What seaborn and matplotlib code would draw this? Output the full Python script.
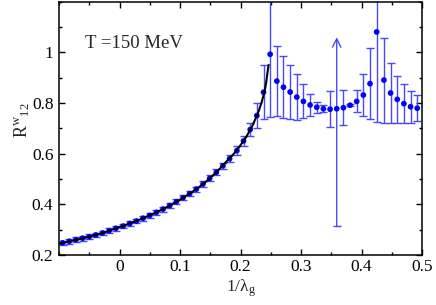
import numpy as np
import seaborn as sns
import matplotlib
matplotlib.use("Agg")
import matplotlib.pyplot as plt
from matplotlib.ticker import MultipleLocator, FuncFormatter

### Data ###

inv_lambda = [-0.094, -0.083, -0.072, -0.061, -0.050, -0.039, -0.028, -0.017, -0.006, 0.006,
              0.017, 0.028, 0.039, 0.050, 0.061, 0.072, 0.083, 0.094, 0.105, 0.116,
              0.127, 0.138, 0.149, 0.160, 0.171, 0.182, 0.194, 0.205, 0.216, 0.227,
              0.238, 0.249, 0.260, 0.271, 0.282, 0.293, 0.304, 0.315, 0.326, 0.337,
              0.348, 0.359, 0.370, 0.381, 0.392, 0.403, 0.414, 0.425, 0.437, 0.448,
              0.459, 0.470, 0.481, 0.492]
r12 = [0.248, 0.254, 0.260, 0.266, 0.272, 0.279, 0.287, 0.296, 0.305, 0.314,
       0.324, 0.334, 0.345, 0.356, 0.368, 0.381, 0.395, 0.410, 0.426, 0.442,
       0.460, 0.480, 0.502, 0.526, 0.552, 0.580, 0.612, 0.650, 0.695, 0.750,
       0.842, 0.992, 0.886, 0.862, 0.843, 0.823, 0.806, 0.792, 0.783, 0.777,
       0.775, 0.777, 0.781, 0.791, 0.806, 0.831, 0.876, 1.080, 0.890, 0.839,
       0.814, 0.797, 0.785, 0.779]
r12_err = [0.009, 0.009, 0.009, 0.009, 0.009, 0.009, 0.009, 0.009, 0.009, 0.009,
           0.009, 0.009, 0.009, 0.010, 0.010, 0.010, 0.010, 0.010, 0.010, 0.010,
           0.010, 0.012, 0.012, 0.012, 0.012, 0.014, 0.017, 0.021, 0.026, 0.048,
           0.106, 0.246, 0.139, 0.123, 0.107, 0.090, 0.067, 0.045, 0.021, 0.014,
           0.071, 0.464, 0.069, 0.003, 0.043, 0.084, 0.139, 0.354, 0.168, 0.120,
           0.093, 0.076, 0.063, 0.052]
# the point whose upper error is drawn as an arrow
arrow_idx = 41
arrow_top = 1.059

# fit curve
fit_x = [-0.1, -0.08, -0.06, -0.04, -0.02, 0.0, 0.02, 0.04, 0.06, 0.08, 0.10, 0.12,
         0.14, 0.16, 0.18, 0.19, 0.20, 0.21, 0.22, 0.23, 0.235, 0.24, 0.2425, 0.245, 0.2465]
fit_y = [0.244, 0.255, 0.266, 0.278, 0.293, 0.310, 0.327, 0.346, 0.367, 0.391, 0.418, 0.448,
         0.483, 0.526, 0.577, 0.602, 0.633, 0.668, 0.711, 0.768, 0.803, 0.848, 0.882, 0.928, 0.950]

### Plot ###

sns.set_theme(style="ticks")
plt.rcParams["font.family"] = ["Liberation Serif", "DejaVu Serif"]
plt.rcParams["mathtext.fontset"] = "custom"
plt.rcParams["mathtext.rm"] = "Liberation Serif"
plt.rcParams["mathtext.it"] = "Liberation Serif:italic"

bar_color = "#4848ff"
fig = plt.figure(figsize=(4.36, 3.05), dpi=100)
ax = fig.add_axes([0.1353, 0.164, 0.8327, 0.831])

x = np.array(inv_lambda)
y = np.array(r12)
e = np.array(r12_err)
keep = np.arange(len(x)) != arrow_idx

ax.errorbar(x[keep], y[keep], yerr=e[keep], fmt="none", ecolor=bar_color,
            elinewidth=1.0, capsize=3, capthick=1.0, zorder=2)
# arrow bar (upper limit open)
ax.annotate("", xy=(x[arrow_idx], arrow_top), xytext=(x[arrow_idx], y[arrow_idx] - e[arrow_idx]),
            arrowprops=dict(arrowstyle="->", color=bar_color, lw=1.0,
                            shrinkA=0, shrinkB=0, mutation_scale=15), zorder=2)
ax.plot([x[arrow_idx]], [y[arrow_idx] - e[arrow_idx]], marker="_", ms=6,
        mew=1.0, color=bar_color, zorder=2)

sns.scatterplot(x=x, y=y, color="#0000ff", s=17, edgecolor="none", ax=ax, zorder=3)
sns.lineplot(x=fit_x, y=fit_y, color="black", lw=1.5, estimator=None, sort=False, ax=ax, zorder=4)

ax.set_xlim(-0.1, 0.5)
ax.set_ylim(0.2, 1.2)
ax.set_xticks([0, 0.1, 0.2, 0.3, 0.4, 0.5])
ax.set_yticks([0.2, 0.4, 0.6, 0.8, 1.0])
ax.xaxis.set_minor_locator(MultipleLocator(0.05))
ax.yaxis.set_minor_locator(MultipleLocator(0.1))
ax.xaxis.set_major_formatter(FuncFormatter(lambda v, p: "%g" % round(v, 2)))
ax.yaxis.set_major_formatter(FuncFormatter(lambda v, p: "%g" % round(v, 2)))
ax.tick_params(which="both", direction="in", top=True, right=True, width=1.0,
               labelsize=12.5, colors="black", pad=4)
ax.tick_params(axis="x", pad=3)
ax.tick_params(which="major", length=4.5)
ax.tick_params(which="minor", length=2.3)
for s in ax.spines.values():
    s.set_linewidth(1.1)
    s.set_color("black")

ax.set_xlabel("1/λ$_\\mathrm{g}$", fontsize=12.5)
ax.xaxis.set_label_coords(0.5, -0.088)
ax.set_ylabel(r"$\mathrm{R}^{\mathrm{w}}{}_{\mathrm{12}}$", fontsize=13)
ax.yaxis.set_label_coords(-0.075, 0.53)

ax.text(0.072, 0.836, "T =150 MeV", transform=ax.transAxes, fontsize=13.5, va="center", ha="left")

fig.savefig("out.png", dpi=100)
